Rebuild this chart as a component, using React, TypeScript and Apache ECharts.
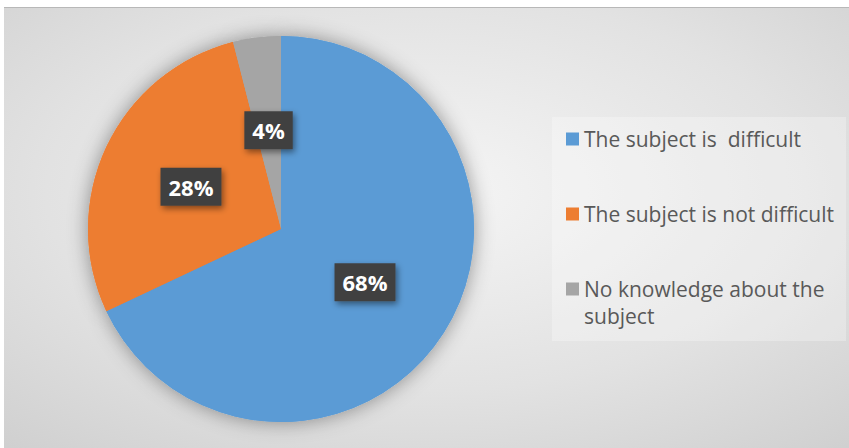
import React, { useEffect, useRef } from "react";
import * as echarts from "echarts";

const categories = [
  "The subject is  difficult",
  "The subject is not difficult",
  "No knowledge about the subject",
];
const values = [68, 28, 4];
const colors = ["#5b9bd5", "#ed7d31", "#a5a5a5"];

const FONT = "'Open Sans', 'Noto Sans', sans-serif";

export default function App() {
  const ref = useRef<HTMLDivElement>(null);
  useEffect(() => {
    if (!ref.current) return;
    const chart = echarts.init(ref.current, undefined, { renderer: "svg" });
    const data = categories.map((name, i) => ({
      name,
      value: values[i],
      itemStyle: { color: colors[i] },
    }));
    const legendTops = [118.5, 193.5, 241.5];
    const legends = categories.map((name, i) => ({
      orient: "vertical",
      left: 562,
      top: legendTops[i],
      padding: 0,
      itemWidth: 13,
      itemHeight: 13,
      icon: "rect",
      selectedMode: false,
      data: [name],
      formatter: (n: string) =>
        n === "No knowledge about the subject" ? "\nNo knowledge about the\nsubject" : n,
      textStyle: {
        fontFamily: FONT,
        fontSize: 21,
        color: "#595959",
        lineHeight: 27,
      },
    }));
    chart.setOption({
      animation: false,
      backgroundColor: {
        type: "radial",
        x: 0.5,
        y: 0.42,
        r: 1.0,
        colorStops: [
          { offset: 0, color: "#f5f5f5" },
          { offset: 0.45, color: "#e2e2e2" },
          { offset: 1, color: "#c2c2c2" },
        ],
      },
      graphic: [
        {
          type: "rect",
          shape: { x: 548, y: 110, width: 294, height: 224 },
          style: { fill: "rgba(255,255,255,0.28)" },
          silent: true,
          z: -1,
        },
        {
          type: "line",
          shape: { x1: 0, y1: 0.5, x2: 845, y2: 0.5 },
          style: { stroke: "#b8b8b8", lineWidth: 1 },
          silent: true,
        },
      ],
      legend: legends,
      series: [
        {
          type: "pie",
          center: [277, 222],
          radius: [0, 193],
          startAngle: 90,
          clockwise: true,
          silent: true,
          label: { show: false },
          labelLine: { show: false },
          itemStyle: {
            shadowBlur: 20,
            shadowColor: "rgba(0,0,0,0.4)",
          },
          data,
          z: 1,
        },
        {
          type: "pie",
          center: [277, 222],
          radius: [0, 193],
          startAngle: 90,
          clockwise: true,
          silent: true,
          data,
          z: 2,
          label: {
            show: true,
            position: "inside",
            formatter: "{d}%",
            fontFamily: FONT,
            fontSize: 22,
            fontWeight: "bold",
            color: "#ffffff",
            backgroundColor: "#404040",
            padding: [8, 8, 8, 8],
            shadowBlur: 6,
            shadowOffsetX: 2,
            shadowOffsetY: 3,
            shadowColor: "rgba(0,0,0,0.45)",
          },
          labelLine: { show: false },
        },
      ],
    });
    return () => chart.dispose();
  }, []);
  return (
    <div
      ref={ref}
      style={{ position: "absolute", left: 4, top: 7, width: 845, height: 441 }}
    />
  );
}
